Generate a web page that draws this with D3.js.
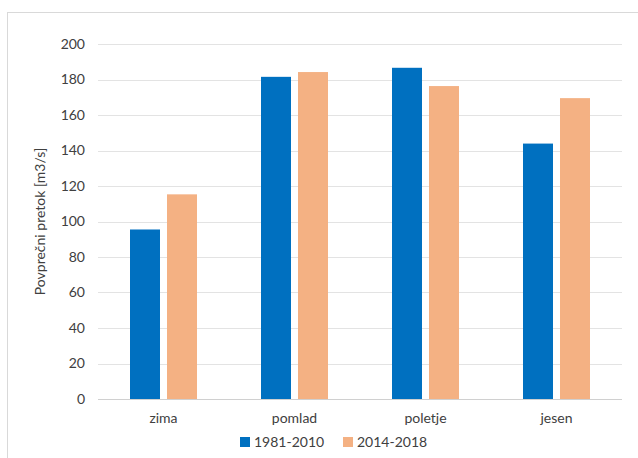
<!DOCTYPE html>
<html>
<head>
<meta charset="utf-8">
<script src="https://cdn.jsdelivr.net/npm/d3@7"></script>
<style>
  html, body { margin: 0; padding: 0; background: #fff; }
  svg { display: block; font-family: Lato, "Open Sans", sans-serif; }
</style>
</head>
<body>
<svg id="chart" width="638" height="458"></svg>
<script>
// Seasonal mean discharge
const seasons = ["zima", "pomlad", "poletje", "jesen"];
const seriesNames = ["1981-2010", "2014-2018"];
const values1981_2010 = [95.5, 181.5, 186.6, 143.9];
const values2014_2018 = [115.3, 184.2, 176.3, 169.5];
const yTicks = [0, 20, 40, 60, 80, 100, 120, 140, 160, 180, 200];
const colors = ["#0070c0", "#f4b183"];
const yTitle = "Povprečni pretok [m3/s]";

const rows = seasons.map((s, i) => ({ season: s, vals: [values1981_2010[i], values2014_2018[i]] }));

const svg = d3.select("#chart");
const plot = { left: 98, right: 622, top: 44, bottom: 399 };

// outer frame
svg.append("rect")
  .attr("x", 7.5).attr("y", 12.5).attr("width", 640).attr("height", 460)
  .attr("fill", "none").attr("stroke", "#d9d9d9");

const y = d3.scaleLinear().domain([0, 200]).range([plot.bottom, plot.top]);
const x0 = d3.scaleBand().domain(seasons).range([plot.left, plot.right]).padding(0);
const innerW = 67;
const x1 = d3.scaleBand().domain(d3.range(seriesNames.length))
  .range([(x0.bandwidth() - innerW) / 2, (x0.bandwidth() + innerW) / 2])
  .paddingInner(7 / 37).paddingOuter(0);

// gridlines
svg.append("g").selectAll("line").data(yTicks).join("line")
  .attr("x1", plot.left).attr("x2", plot.right)
  .attr("y1", d => Math.round(y(d)) + 0.5).attr("y2", d => Math.round(y(d)) + 0.5)
  .attr("stroke", d => d === 0 ? "#d0d0d0" : "#e3e3e3").attr("stroke-width", 1);

// y axis labels
const yAxis = d3.axisLeft(y).tickValues(yTicks).tickSize(0).tickPadding(0);
const gy = svg.append("g").attr("transform", `translate(${plot.left - 13},0)`).call(yAxis);
gy.select(".domain").remove();
gy.selectAll("text").attr("font-size", 14).attr("fill", "#404040")
  .attr("font-family", "Lato, 'Open Sans', sans-serif");

// bars
const groups = svg.append("g").selectAll("g").data(rows).join("g")
  .attr("transform", d => `translate(${x0(d.season)},0)`);
groups.selectAll("rect").data(d => d.vals.map((v, i) => ({ v, i }))).join("rect")
  .attr("x", d => x1(d.i)).attr("width", x1.bandwidth())
  .attr("y", d => y(d.v)).attr("height", d => y(0) - y(d.v))
  .attr("fill", d => colors[d.i]);

// x axis labels
const xAxis = d3.axisBottom(x0).tickSize(0).tickPadding(0);
const gx = svg.append("g").attr("transform", `translate(0,${plot.bottom + 14})`).call(xAxis);
gx.select(".domain").remove();
gx.selectAll("text").attr("font-size", 14).attr("fill", "#404040")
  .attr("font-family", "Lato, 'Open Sans', sans-serif");

// y axis title
svg.append("text")
  .attr("transform", `translate(45,${(plot.top + plot.bottom) / 2}) rotate(-90)`)
  .attr("text-anchor", "middle").attr("font-size", 14).attr("fill", "#404040")
  .text(yTitle);

// legend
const legendX = [240, 343];
const lg = svg.append("g").selectAll("g").data(seriesNames).join("g")
  .attr("transform", (d, i) => `translate(${legendX[i]},437)`);
lg.append("rect").attr("width", 10).attr("height", 10).attr("fill", (d, i) => colors[i]);
lg.append("text").attr("x", 14).attr("y", 10).attr("font-size", 14).attr("fill", "#404040").text(d => d);
</script>
</body>
</html>
